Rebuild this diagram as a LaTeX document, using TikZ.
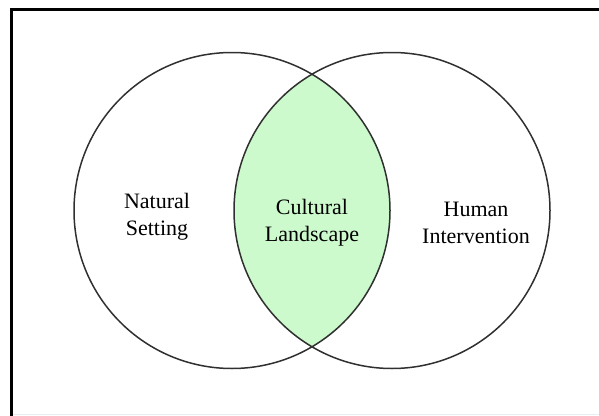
\documentclass[tikz,border=0pt]{standalone}
\usepackage{fontspec}
\setmainfont{Liberation Serif}
\definecolor{lensgreen}{HTML}{CCFACC}
\definecolor{ringgray}{HTML}{303030}
\definecolor{edgeblue}{HTML}{E4EEF6}
\begin{document}
\begin{tikzpicture}[x=1pt,y=-1pt,
  ring/.style={circle, draw=ringgray, line width=1.5pt, minimum size=316pt, inner sep=0pt},
  label/.style={align=center, font=\fontsize{22}{27}\selectfont, text=black}]
  \useasboundingbox (0,0) rectangle (599,415);
  % frame (runs past the right and bottom edges)
  \draw[line width=3pt, black] (11,640) -- (11,9) -- (640,9);
  \draw[line width=0.8pt, edgeblue] (13,414) -- (599,414);
  % centres of the two sets
  \coordinate (cl) at (232,210.5);
  \coordinate (cr) at (392,210.5);
  % shared region
  \begin{scope}
    \clip (cl) circle (158);
    \fill[lensgreen] (cr) circle (158);
  \end{scope}
  \node[ring] (natural) at (cl) {};
  \node[ring] (human) at (cr) {};
  \node[label] (nt) at (157,217) {Natural\\Setting};
  \node[label] (ct) at (312,223) {Cultural\\Landscape};
  \node[label] (ht) at (476,223) {Human\\Intervention};
\end{tikzpicture}
\end{document}
